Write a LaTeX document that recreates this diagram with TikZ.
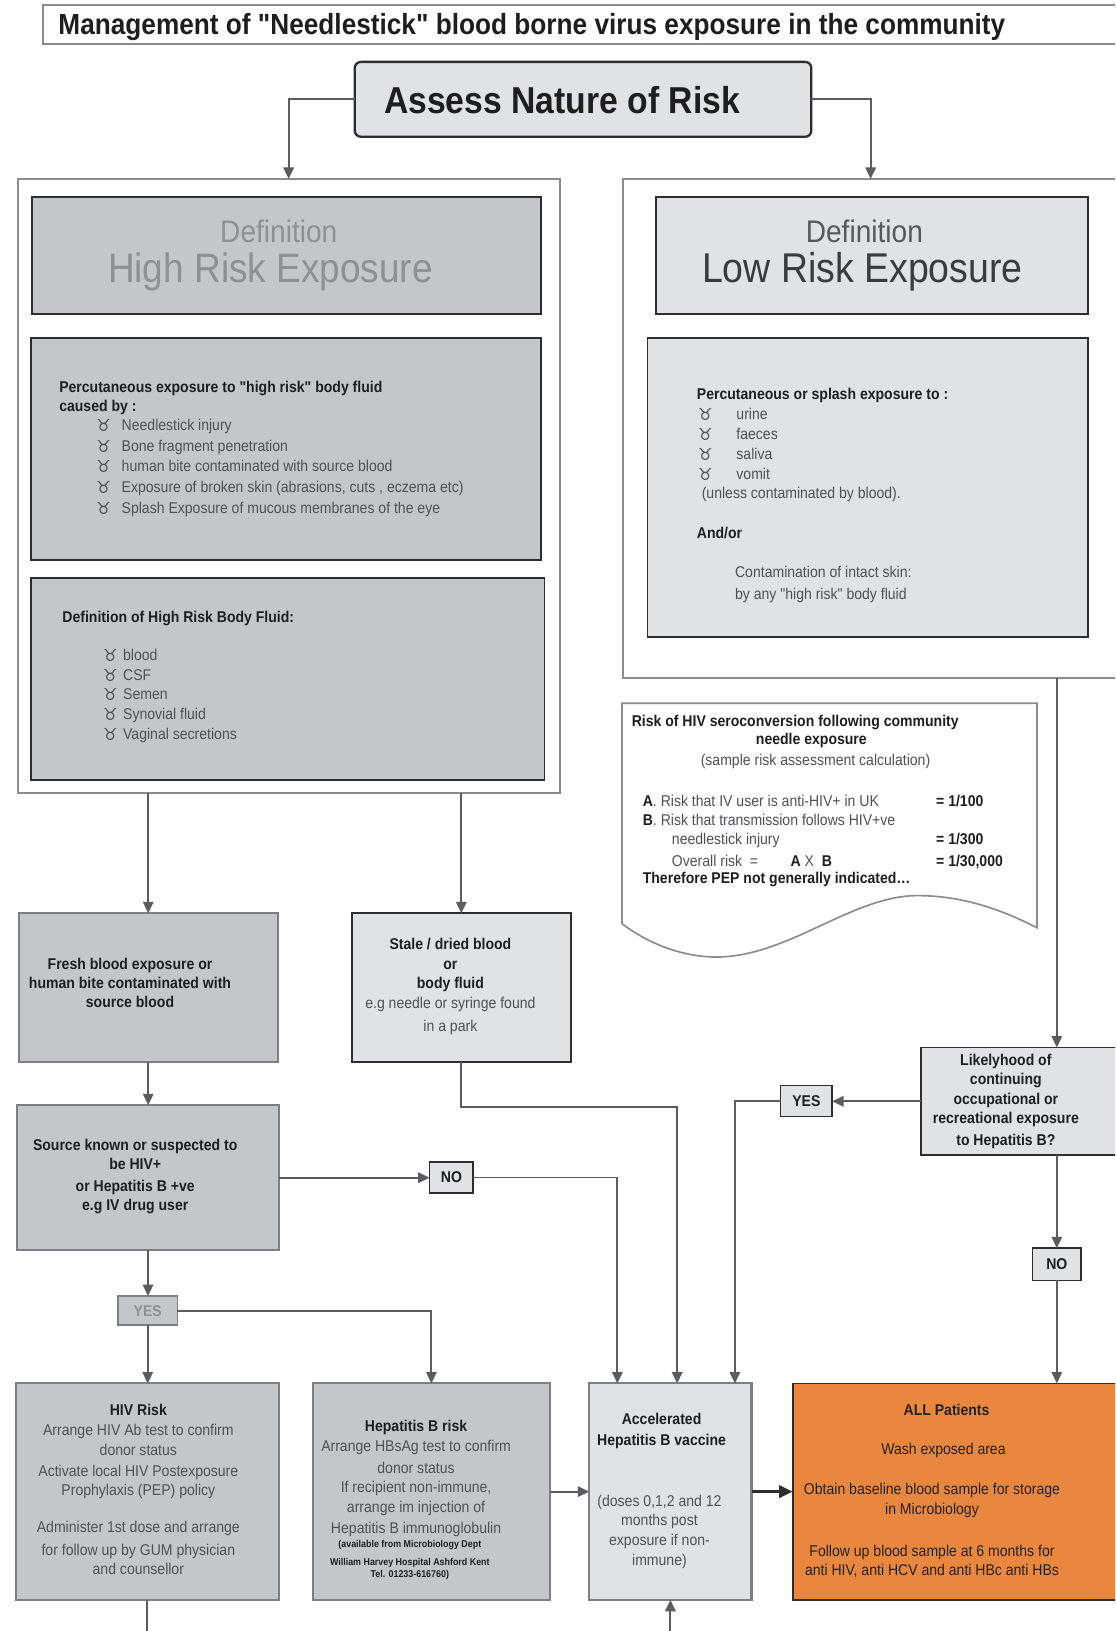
\documentclass[tikz,border=0pt]{standalone}
\usepackage{fontspec}
\setmainfont{Liberation Sans}
\newfontfamily\nar{Liberation Sans}[FakeStretch=0.9]
\newfontfamily\symf{DejaVu Sans}
\usetikzlibrary{arrows.meta,calc}
\definecolor{midg}{HTML}{C4C7CA}
\definecolor{lightg}{HTML}{E0E2E4}
\definecolor{dbord}{HTML}{2E2E2E}
\definecolor{gbord}{HTML}{7D8083}
\definecolor{cont}{HTML}{8A8C8F}
\definecolor{connc}{HTML}{5A5C5F}
\definecolor{orng}{HTML}{E8873D}
\definecolor{tdark}{HTML}{1E1E1E}
\definecolor{tgray}{HTML}{4F5153}
\definecolor{hrisk}{HTML}{8E9194}
\definecolor{ldef}{HTML}{3A3B3C}
\definecolor{odark}{HTML}{222222}
\newcommand\bul{{\symf\fontsize{16}{16}\selectfont\raisebox{-1pt}{\char"2649}}}
\newcommand\bi[1]{\makebox[#1pt][l]{\bul}}
\newcommand\fr{\rule{0pt}{11pt}}
\tikzset{
  box/.style={draw, line width=1.8pt, inner sep=0pt, outer sep=0pt, anchor=north west},
  midbox/.style={box, fill=midg, draw=dbord},
  midgbox/.style={box, fill=midg, draw=gbord, line width=2pt},
  ltbox/.style={box, fill=lightg, draw=dbord},
  ltgbox/.style={box, fill=lightg, draw=gbord, line width=2pt},
  contbox/.style={box, fill=white, draw=cont, line width=1.8pt},
  tagbox/.style={box, fill=lightg, draw=dbord, line width=1.6pt, text=tdark, font=\nar\bfseries\fontsize{15}{18}\selectfont},
  reg/.style={inner sep=0pt, outer sep=0pt, text=tgray, font=\nar\fontsize{15}{#1}\selectfont},
  reg/.default=19,
  bld/.style={inner sep=0pt, outer sep=0pt, text=tdark, font=\nar\bfseries\fontsize{15}{#1}\selectfont},
  bld/.default=19,
  conn/.style={draw=connc, line width=1.9pt},
  arr/.style={conn, -{Triangle[length=11pt,width=10pt]}},
  darr/.style={draw=dbord, line width=2.4pt, -{Triangle[length=13pt,width=12pt]}},
}
\begin{document}
\begin{tikzpicture}[x=1pt,y=-1pt]
\useasboundingbox (0,0) rectangle (1072,1568);
\clip (0,0) rectangle (1072,1568);
\fill[white] (0,0) rectangle (1072,1568);

% title
\node[contbox, line width=2pt, minimum width=1100pt, minimum height=37pt] (title) at (41,5) {};
\node[anchor=base west, inner sep=0pt, text=tdark, font=\nar\bfseries\fontsize{28}{30}\selectfont] (titletxt) at (56,33) {Management of "Needlestick" blood borne virus exposure in the community};

% assess
\node[box, rounded corners=6pt, fill=lightg, draw=dbord, line width=2.2pt, minimum width=439pt, minimum height=72pt] (assess) at (341,59.5) {};
\node[anchor=base west, inner sep=0pt, text=tdark, font=\nar\bfseries\fontsize{36}{40}\selectfont] (assesstxt) at (369,109) {Assess Nature of Risk};

% containers
\node[contbox, minimum width=521pt, minimum height=590pt] (hrout) at (17,172) {};
\node[contbox, minimum width=476pt, minimum height=480pt] (lrout) at (599,172) {};

% definition boxes
\node[midbox, minimum width=489.5pt, minimum height=113pt] (hrdef) at (30.5,189) {};
\node[anchor=base, inner sep=0pt, text=hrisk, font=\nar\fontsize{30}{32}\selectfont] (hrdt1) at (268,233) {Definition};
\node[anchor=base, inner sep=0pt, text=hrisk, font=\nar\fontsize{39.5}{42}\selectfont] (hrdt2) at (260,272) {High Risk Exposure};

\node[ltbox, minimum width=415.5pt, minimum height=113pt] (lrdef) at (630.5,189) {};
\node[anchor=base, inner sep=0pt, text=ldef!85, font=\nar\fontsize{30}{32}\selectfont] (lrdt1) at (831,233) {Definition};
\node[anchor=base, inner sep=0pt, text=ldef, font=\nar\fontsize{40}{42}\selectfont] (lrdt2) at (829,272) {Low Risk Exposure};

% high risk cause box
\node[midbox, minimum width=490.5pt, minimum height=213.5pt] (hrcause) at (29.5,325) {};
\node[bld=18, anchor=north west, align=left] (c2h) at (57,366.4) {\fr Percutaneous exposure to "high risk" body fluid\\caused by :};
\node[reg=20, anchor=north west, align=left] (c2i) at (92.5,402.6) {\fr\bi{24.5}Needlestick injury\\\bi{24.5}Bone fragment penetration\\\bi{24.5}human bite contaminated with source blood\\\bi{24.5}Exposure of broken skin (abrasions, cuts , eczema etc)\\\bi{24.5}Splash Exposure of mucous membranes of the eye};

% high risk fluid box
\node[midbox, minimum width=494pt, minimum height=194pt] (hrfluid) at (29.5,556) {};
\node[bld, anchor=north west] (c3h) at (60,587) {\fr Definition of High Risk Body Fluid:};
\node[reg=19, anchor=north west, align=left] (c3i) at (99,623.8) {\fr\bi{19.4}blood\\\bi{19.4}CSF\\\bi{19.4}Semen\\\bi{19.4}Synovial fluid\\\bi{19.4}Vaginal secretions};

% low risk cause box
\node[ltbox, minimum width=423.5pt, minimum height=287pt] (lrcause) at (622.5,325) {};
\node[bld, anchor=north west] (r2h) at (670,372.8) {\fr Percutaneous or splash exposure to :};
\node[reg=19.2, anchor=north west, align=left] (r2i) at (671,392) {\fr\bi{37}urine\\\bi{37}faeces\\\bi{37}saliva\\\bi{37}vomit};
\node[reg, anchor=north west] (r2u) at (674.7,468) {\fr(unless contaminated by blood).};
\node[bld, anchor=north west] (r2a) at (670,506.5) {\fr And/or};
\node[reg=21, anchor=north west, align=left] (r2c) at (706.7,544) {\fr Contamination of intact skin:\\by any "high risk" body fluid};

% risk calculation document
\draw[draw=cont, line width=1.6pt, fill=white] (598,676) -- (997,676) -- (997,892)
  .. controls (970,878) and (930,861) .. (882,861)
  .. controls (820,861) and (760,918) .. (692,920)
  .. controls (655,921) and (620,905) .. (598,888) -- cycle;
\node[bld, anchor=base] (d1) at (764.5,698) {Risk of HIV seroconversion following community};
\node[bld, anchor=base] (d2) at (780,715.5) {needle exposure};
\node[reg, anchor=base] (d3) at (784,736) {(sample risk assessment calculation)};
\node[reg, anchor=base west] (d4) at (618,775) {{\bfseries\color{tdark}A}. Risk that IV user is anti-HIV+ in UK};
\node[reg, anchor=base west] (d5) at (618,794) {{\bfseries\color{tdark}B}. Risk that transmission follows HIV+ve};
\node[reg, anchor=base west] (d6) at (646,812) {needlestick injury};
\node[reg, anchor=base west] (d7) at (646,833) {Overall risk \ =};
\node[reg, anchor=base west] (d8) at (760,833) {{\bfseries\color{tdark}A} X \ {\bfseries\color{tdark}B}};
\node[bld, anchor=base west] (d9) at (900,775) {= 1/100};
\node[bld, anchor=base west] (d10) at (900,812) {= 1/300};
\node[bld, anchor=base west] (d11) at (900,833) {= 1/30,000};
\node[bld, anchor=base west] (d12) at (618,849) {Therefore PEP not generally indicated…};

% second row
\node[midgbox, minimum width=249pt, minimum height=143pt] (fresh) at (18,878) {};
\node[bld=18.5, align=center, anchor=north] (frt) at (125,921) {\fr Fresh blood exposure or\\human bite contaminated with\\source blood};

\node[ltbox, minimum width=211pt, minimum height=143pt] (stale) at (338,878) {};
\node[bld=19, align=center, anchor=north] (stt) at (433,901.6) {\fr Stale / dried blood\\or\\body fluid\\{\mdseries\color{tgray}e.g needle or syringe found}\\[3pt]{\mdseries\color{tgray}in a park}};

\node[midgbox, minimum width=251.4pt, minimum height=139.5pt] (source) at (16.6,1062.5) {};
\node[bld=18.5, align=center, anchor=north] (srt) at (130,1094.6) {\fr Source known or suspected to\\be HIV+\\[3pt]or Hepatitis B +ve\\e.g IV drug user};

\node[tagbox, minimum width=42pt, minimum height=30pt] (no1) at (413,1117) {NO};

\node[ltbox, minimum width=262pt, minimum height=103.5pt] (likely) at (885,1007) {};
\node[bld=18.8, align=center, anchor=north] (lkt) at (967,1013) {\fr Likelyhood of\\continuing\\occupational or\\recreational exposure\\[2pt]to Hepatitis B?};

\node[tagbox, minimum width=49.5pt, minimum height=30pt] (yes2) at (750.5,1043.5) {YES};
\node[tagbox, minimum width=47pt, minimum height=31pt] (no2) at (992.5,1200) {NO};
\node[box, fill=midg, draw=gbord, line width=1.6pt, text=hrisk, font=\nar\bfseries\fontsize{15}{18}\selectfont, minimum width=57pt, minimum height=28pt] (yes1) at (113.5,1246) {YES};

% bottom row
\node[midgbox, minimum width=252.5pt, minimum height=208pt] (hiv) at (15.5,1330) {};
\node[reg=19, align=center, anchor=north] (hivt) at (133,1350) {\fr{\bfseries\color{tdark}HIV Risk}\\Arrange HIV Ab test to confirm\\donor status\\[1pt]Activate local HIV Postexposure\\Prophylaxis (PEP) policy\\[16pt]Administer 1st dose and arrange\\[3pt]for follow up by GUM physician\\and counsellor};

\node[midgbox, minimum width=228.5pt, minimum height=208pt] (hepb) at (300.5,1330) {};
\node[reg=19.5, align=center, anchor=north] (hbt) at (400,1365) {\fr{\bfseries\color{tdark}Hepatitis B risk}\\Arrange HBsAg test to confirm\\[2pt]donor status\\[-2pt]If recipient non-immune,\\arrange im injection of\\[1pt]Hepatitis B immunoglobulin};
\node[inner sep=0pt, align=center, anchor=north, text=tdark, font=\nar\bfseries\fontsize{9.5}{14}\selectfont] (hbs) at (394,1480.6) {\rule{0pt}{7pt}(available from Microbiology Dept\\[3pt]William Harvey Hospital Ashford Kent\\[-2pt]Tel. 01233-616760)};

\node[ltgbox, minimum width=156pt, minimum height=208pt] (accel) at (566.5,1330) {};
\node[bld=21, align=center, anchor=north] (act) at (636,1358) {\fr Accelerated\\Hepatitis B vaccine};
\node[reg=18.7, align=center, anchor=north] (acb) at (634,1437) {\fr(doses 0,1,2 and 12\\months post\\exposure if non-\\[0.6pt]immune)};

\node[box, fill=orng, draw=dbord, minimum width=508pt, minimum height=208pt] (orange) at (762,1330) {};
\node[bld, text=odark, anchor=base] (o1) at (910,1361) {ALL Patients};
\node[reg, text=odark, anchor=base] (o2) at (907,1398) {Wash exposed area};
\node[reg=19.3, text=odark, align=center, anchor=north] (o3) at (896,1425.7) {\fr Obtain baseline blood sample for storage\\in Microbiology};
\node[reg=18.6, text=odark, align=center, anchor=north] (o4) at (896,1485) {\fr Follow up blood sample at 6 months for\\anti HIV, anti HCV and anti HBc anti HBs};

\coordinate (hivbot) at (141.75,1580);
\coordinate (accbot) at (644.5,1580);

% connectors
\draw[arr] (assess.west) -| (hrout.north);
\draw[arr] (assess.east) -| (lrout.north);
\draw[arr] (fresh.north |- hrout.south) -- (fresh.north);
\draw[arr] (stale.north |- hrout.south) -- (stale.north);
\draw[arr] (fresh.south) -- (fresh.south |- source.north);
\draw[arr] (source.east) -- (source.east -| no1.west);
\draw[arr] (no1.east) -| ([xshift=27pt]accel.north west);
\draw[arr] (stale.south) -- ++(0,43.5) -| ([xshift=84.5pt]accel.north west);
\draw[arr] (likely.north |- lrout.south) -- (likely.north);
\draw[arr] (likely.west) -- (likely.west -| yes2.east);
\draw[arr] (yes2.west) -| ([xshift=140pt]accel.north west);
\draw[arr] (likely.south) -- (no2.north);
\draw[arr] (no2.south) -- (orange.north);
\draw[arr] (source.south) -- (source.south |- yes1.north);
\draw[arr] (yes1.south) -- (yes1.south |- hiv.north);
\draw[arr] (yes1.east) -| (hepb.north);
\draw[arr] (hepb.east) -- (accel.west);
\draw[darr] (accel.east) -- (orange.west);
\draw[conn] (hiv.south) -- (hivbot);
\draw[arr] (accbot) -- (accel.south);
\end{tikzpicture}
\end{document}
